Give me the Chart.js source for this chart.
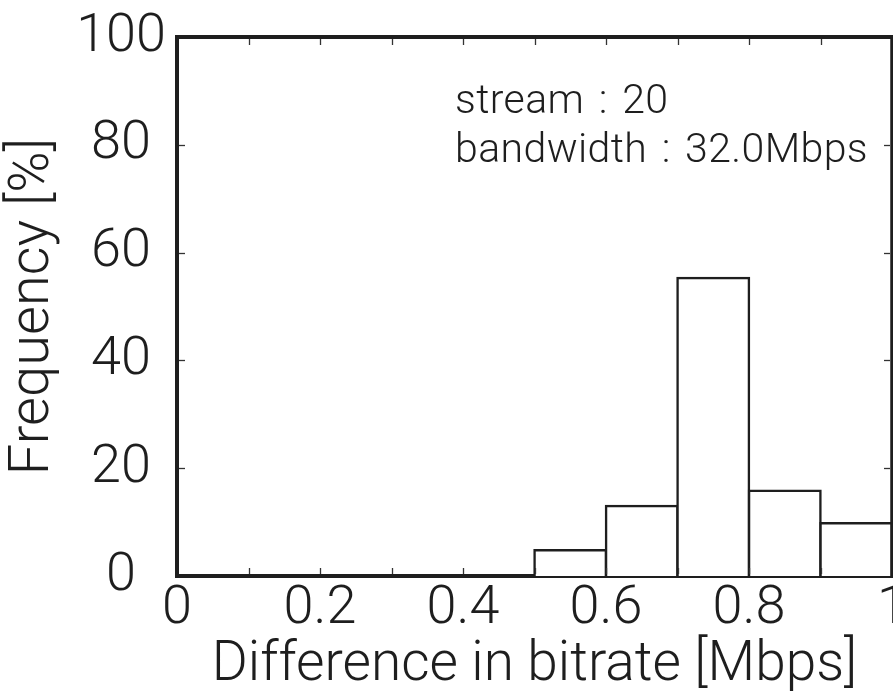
<!DOCTYPE html>
<html><head><meta charset="utf-8">
<script src="https://cdn.jsdelivr.net/npm/chart.js@4.4.0/dist/chart.umd.min.js"></script>
<style>html,body{margin:0;padding:0;background:#fff;overflow:hidden}#wrap{width:893px;height:696px;position:relative}</style>
</head><body><div id="wrap"><canvas id="c"></canvas></div>
<script>
// ---- data ----
const binStarts = [0.5, 0.6, 0.7, 0.8, 0.9];
const binWidth = 0.1;
const frequency = [4.8, 13.0, 55.3, 15.8, 9.8];
const xTickLabels = ['0', '', '0.2', '', '0.4', '', '0.6', '', '0.8', '', '1'];
const yTickLabels = ['0', '20', '40', '60', '80', '100'];
const annotationLines = ['stream : 20', 'bandwidth : 32.0Mbps'];
const xTitle = 'Difference in bitrate [Mbps]';
const yTitle = 'Frequency [%]';

const FONT = "Roboto, 'Liberation Sans', Arial, sans-serif";
const WEIGHT = 300;
const INK = '#1e1e1e';

const points = binStarts.map((s, i) => ({ x: s + binWidth / 2, y: frequency[i] }));

const frameTicks = {
  id: 'frameTicks',
  afterDraw(chart) {
    const { ctx, chartArea: a, scales: { x, y } } = chart;
    ctx.save();
    ctx.strokeStyle = INK;
    ctx.lineWidth = 4;
    ctx.beginPath(); ctx.moveTo(a.left, a.top); ctx.lineTo(a.right, a.top); ctx.stroke();
    ctx.lineWidth = 3.5;
    ctx.beginPath(); ctx.moveTo(a.right, a.top - 2); ctx.lineTo(a.right, a.bottom); ctx.stroke();
    ctx.lineWidth = 1.3;
    ctx.strokeStyle = '#333';
    const L = 6;
    x.ticks.forEach(t => {
      const px = Math.round(x.getPixelForValue(t.value)) + 0.5;
      if (px <= a.left + 3 || px >= a.right - 3) return;
      ctx.beginPath(); ctx.moveTo(px, a.bottom - 2); ctx.lineTo(px, a.bottom - 2 - L); ctx.stroke();
      ctx.beginPath(); ctx.moveTo(px, a.top + 2); ctx.lineTo(px, a.top + 2 + L); ctx.stroke();
    });
    y.ticks.forEach(t => {
      const py = Math.round(y.getPixelForValue(t.value)) + 0.5;
      if (py <= a.top + 3 || py >= a.bottom - 3) return;
      ctx.beginPath(); ctx.moveTo(a.left + 2, py); ctx.lineTo(a.left + 2 + L, py); ctx.stroke();
      ctx.beginPath(); ctx.moveTo(a.right - 2, py); ctx.lineTo(a.right - 2 - L, py); ctx.stroke();
    });
    ctx.fillStyle = INK;
    ctx.font = WEIGHT + ' 41px ' + FONT;
    ctx.textAlign = 'left';
    ctx.textBaseline = 'alphabetic';
    if ('wordSpacing' in ctx) ctx.wordSpacing = '4px';
    if ('letterSpacing' in ctx) ctx.letterSpacing = '0.4px';
    annotationLines.forEach((t, i) => ctx.fillText(t, 455, 113 + i * 49));
    ctx.restore();
  }
};

new Chart(document.getElementById('c'), {
  type: 'bar',
  data: {
    datasets: [{
      data: points,
      backgroundColor: '#ffffff',
      borderColor: INK,
      borderWidth: 2.5,
      inflateAmount: 1.25,
      borderSkipped: 'start',
      barPercentage: 1,
      categoryPercentage: 1
    }]
  },
  options: {
    responsive: true,
    maintainAspectRatio: false,
    animation: false,
    layout: { padding: { left: 0, right: 1, top: 37, bottom: 0 } },
    plugins: { legend: { display: false }, tooltip: { enabled: false } },
    scales: {
      x: {
        type: 'linear',
        min: 0, max: 1,
        offset: false,
        grid: { display: false, drawTicks: false },
        border: { display: true, color: INK, width: 4 },
        ticks: {
          stepSize: 0.1, autoSkip: false, maxRotation: 0, padding: 1,
          color: INK, font: { family: FONT, size: 54, weight: WEIGHT },
          callback: (v, i) => xTickLabels[i]
        },
        title: { display: true, text: xTitle, color: INK, font: { family: FONT, size: 55, weight: WEIGHT, lineHeight: 1 }, padding: { top: 0, bottom: 2 } },
        afterFit(s) { s.height = 120; s.paddingRight = 0; }
      },
      y: {
        min: 0, max: 100,
        grid: { display: false, drawTicks: false },
        border: { display: true, color: INK, width: 4 },
        ticks: {
          stepSize: 20, padding: 11, crossAlign: 'center',
          color: INK, font: { family: FONT, size: 54, weight: WEIGHT },
          callback: (v, i) => yTickLabels[i]
        },
        title: { display: true, text: yTitle, color: INK, font: { family: FONT, size: 56, weight: WEIGHT, lineHeight: 1.2 }, padding: { top: 0, bottom: 0 } },
        afterFit(s) { s.width = 177; s.paddingTop = 0; }
      }
    }
  },
  plugins: [frameTicks]
});
</script>
</body></html>
